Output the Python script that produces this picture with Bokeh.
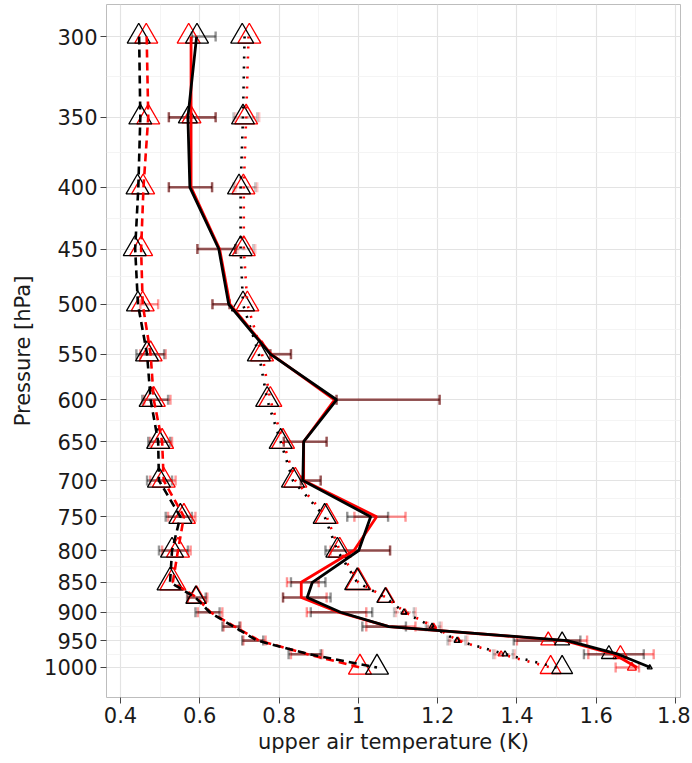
from math import pi
from bokeh.plotting import figure
from bokeh.models import Range1d, FixedTicker, CustomJSTickFormatter, ColumnDataSource
from bokeh.embed import file_html
from bokeh.resources import INLINE

# ---------------- data ----------------
pressure = [300, 350, 400, 450, 500, 550, 600, 650, 700, 750, 800, 850, 875, 900, 925, 950, 975, 1000]
y_ticks = [300, 350, 400, 450, 500, 550, 600, 650, 700, 750, 800, 850, 900, 950, 1000]
x_ticks = [0.4, 0.6, 0.8, 1.0, 1.2, 1.4, 1.6, 1.8]
x_minor = [0.5, 0.7, 0.9, 1.1, 1.3, 1.5, 1.7]

# dashed statistic
dash_black = [0.447, 0.450, 0.445, 0.437, 0.444, 0.467, 0.476, 0.495, 0.497, 0.551, 0.530, 0.525, 0.589, 0.625, 0.685, 0.745, 0.875, 1.047]
dash_red = [0.466, 0.470, 0.458, 0.452, 0.456, 0.476, 0.484, 0.505, 0.509, 0.560, 0.545, 0.532, 0.592, 0.627, 0.688, 0.750, 0.872, 1.004]
dash_tri_black = [0.446, 0.450, 0.443, 0.436, 0.444, 0.467, 0.476, 0.495, 0.497, 0.551, 0.530, 0.525, 0.590, None, None, None, None, 1.047]
dash_tri_red = [0.465, 0.470, 0.457, 0.452, 0.456, 0.476, 0.484, 0.505, 0.509, 0.560, 0.545, 0.532, 0.592, None, None, None, None, 1.004]
dash_tri_size = [23, 23, 23, 23, 23, 23, 23, 23, 23, 23, 23, 26, 20, 0, 0, 0, 0, 23]
dash_lo_black = [None, None, None, None, None, 0.440, 0.455, 0.470, 0.467, 0.514, 0.497, None, 0.568, 0.589, 0.657, 0.707, 0.824, None]
dash_hi_black = [None, None, None, None, None, 0.510, 0.520, 0.525, 0.530, 0.580, 0.570, None, 0.615, 0.650, 0.700, 0.760, 0.905, None]
dash_lo_red = [None, None, None, None, 0.450, 0.450, 0.460, 0.475, 0.475, 0.520, 0.505, None, 0.570, 0.595, 0.660, 0.710, 0.830, None]
dash_hi_red = [None, None, None, None, 0.495, 0.514, 0.526, 0.530, 0.539, 0.589, 0.577, None, 0.619, 0.657, 0.703, 0.766, 0.909, None]

# solid statistic
solid_black = [0.592, 0.570, 0.575, 0.648, 0.673, 0.778, 0.945, 0.862, 0.860, 1.031, 1.001, 0.884, 0.871, 0.955, 1.077, 1.527, 1.655, 1.737]
solid_red = [0.578, 0.578, 0.578, 0.650, 0.676, 0.780, 0.940, 0.862, 0.862, 1.046, 0.989, 0.856, 0.856, 0.950, 1.077, 1.520, 1.645, 1.703]
solid_tri_black = [0.593, 0.570, None, None, None, None, None, None, None, None, None, None, None, None, None, 1.514, 1.632, 1.735]
solid_tri_red = [0.572, 0.579, None, None, None, None, None, None, None, None, None, None, None, None, None, 1.479, 1.661, 1.690]
solid_tri_size_black = [23, 19, 0, 0, 0, 0, 0, 0, 0, 0, 0, 0, 0, 0, 0, 15, 15, 5]
solid_tri_size_red = [23, 19, 0, 0, 0, 0, 0, 0, 0, 0, 0, 0, 0, 0, 0, 15, 15, 9]
solid_lo_black = [0.580, 0.522, 0.522, 0.594, 0.632, 0.778, 0.945, 0.812, 0.855, 0.972, 0.917, 0.830, 0.810, 0.880, 1.010, 1.392, 1.569, None]
solid_hi_black = [0.640, 0.640, 0.631, 0.690, 0.675, 0.830, 1.205, 0.920, 0.905, 1.075, 1.080, 0.917, 0.930, 1.035, 1.120, 1.560, 1.720, None]
solid_lo_red = [None, 0.522, 0.522, 0.594, 0.632, 0.778, 0.945, 0.812, 0.855, 0.990, 0.930, 0.820, 0.810, 0.870, 1.020, 1.400, 1.580, 1.649]
solid_hi_red = [None, 0.640, 0.631, 0.690, 0.675, 0.830, 1.205, 0.920, 0.905, 1.119, 1.080, 0.900, 0.920, 1.020, 1.144, 1.577, 1.745, 1.708]

# dotted statistic
dot_black = [0.713, 0.709, 0.703, 0.703, 0.709, 0.749, 0.770, 0.804, 0.835, 0.915, 0.947, 0.997, 1.068, 1.115, 1.186, 1.249, 1.370, 1.500]
dot_red = [0.723, 0.717, 0.711, 0.711, 0.720, 0.757, 0.778, 0.810, 0.841, 0.920, 0.953, 1.000, 1.070, 1.118, 1.190, 1.252, 1.360, 1.485]
dot_tri_black = [0.707, 0.709, 0.699, 0.703, 0.709, 0.749, 0.770, 0.804, 0.835, 0.915, 0.947, 0.997, 1.068, 1.115, 1.186, 1.249, 1.370, 1.514]
dot_tri_red = [0.725, 0.717, 0.710, 0.711, 0.720, 0.757, 0.778, 0.810, 0.841, 0.920, 0.953, 1.000, 1.070, 1.118, 1.190, 1.252, 1.360, 1.485]
dot_tri_size = [23, 23, 23, 23, 23, 23, 23, 23, 23, 23, 23, 25, 17, 6, 6, 6, 6, 21]
dot_lo_black = [None, 0.685, 0.685, 0.690, None, None, None, None, None, None, None, None, None, 1.090, 1.170, 1.225, 1.340, None]
dot_hi_black = [None, 0.745, 0.740, 0.735, None, None, None, None, None, None, None, None, None, 1.140, 1.205, 1.270, 1.390, None]
dot_lo_red = [None, 0.690, 0.690, 0.695, None, None, None, None, None, None, None, None, None, 1.095, 1.175, 1.230, 1.345, None]
dot_hi_red = [None, 0.750, 0.745, 0.740, None, None, None, None, None, None, None, None, None, 1.145, 1.210, 1.275, 1.395, None]

# ---------------- figure ----------------
FONT = "DejaVu Sans"
p = figure(width=690, height=761, output_backend="svg", toolbar_location=None,
           x_range=Range1d(0.3647, 1.8126), y_range=Range1d(1059, 282.2),
           y_axis_type="log",
           min_border_left=106, min_border_right=10, min_border_top=4, min_border_bottom=64)
p.background_fill_color = "white"
p.border_fill_color = "white"
p.outline_line_color = "#BDBDBD"
p.outline_line_width = 1

# grids
y_minor = [(a * b) ** 0.5 for a, b in zip(y_ticks[:-1], y_ticks[1:])]
p.yaxis.ticker = FixedTicker(ticks=y_ticks, minor_ticks=y_minor)
p.xaxis.ticker = FixedTicker(ticks=x_ticks, minor_ticks=x_minor)
p.yaxis.formatter = CustomJSTickFormatter(code="return tick.toFixed(0)")
p.xaxis.formatter = CustomJSTickFormatter(code="return String(Math.round(tick*10)/10)")
for g in (p.xgrid, p.ygrid):
    g.grid_line_color = "#E3E3E3"
    g.grid_line_width = 1.2
    g.minor_grid_line_color = "#F1F1F1"
    g.minor_grid_line_width = 0.8

for ax in (p.xaxis, p.yaxis):
    ax.axis_line_color = None
    ax.major_tick_line_color = "#444444"
    ax.major_tick_line_width = 1
    ax.major_tick_out = 6
    ax.major_tick_in = 0
    ax.minor_tick_line_color = None
    ax.major_label_text_font = FONT
    ax.major_label_text_font_size = "21px"
    ax.major_label_text_color = "#1A1A1A"
    ax.axis_label_text_font = FONT
    ax.axis_label_text_font_size = "21px"
    ax.axis_label_text_font_style = "normal"
    ax.axis_label_text_color = "#1A1A1A"
    ax.major_label_standoff = 3
p.xaxis.axis_label = "upper air temperature (K)"
p.yaxis.axis_label = "Pressure [hPa]"
p.xaxis.axis_label_standoff = 4
p.yaxis.axis_label_standoff = 6


def clean(xs, extra=None):
    out_y, out_x, out_e = [], [], []
    for i, v in enumerate(xs):
        if v is None:
            continue
        if extra is not None and (extra[i] is None or extra[i] == 0):
            continue
        out_y.append(pressure[i])
        out_x.append(v)
        if extra is not None:
            out_e.append(extra[i])
    return out_x, out_y, out_e


def errbars(lo, hi, color, alpha, dash):
    ys, x0, x1 = [], [], []
    for i in range(len(pressure)):
        if lo[i] is None or hi[i] is None:
            continue
        ys.append(pressure[i]); x0.append(lo[i]); x1.append(hi[i])
    if not ys:
        return
    src = ColumnDataSource(dict(y=ys, x0=x0, x1=x1))
    p.segment(x0="x0", y0="y", x1="x1", y1="y", source=src, line_color=color,
              line_alpha=alpha, line_width=2.6, line_dash=dash)
    for k in ("x0", "x1"):
        p.scatter(x=k, y="y", source=src, marker="dash", angle=pi / 2, size=10,
                  line_color=color, line_alpha=alpha, line_width=2.4)


# error bars
errbars(dash_lo_red, dash_hi_red, "#FF0000", 0.40, "solid")
errbars(dash_lo_black, dash_hi_black, "#000000", 0.40, "solid")
errbars(solid_lo_red, solid_hi_red, "#FF0000", 0.42, "solid")
errbars(solid_lo_black, solid_hi_black, "#000000", 0.42, "solid")
errbars(dot_lo_red, dot_hi_red, "#FF0000", 0.22, "3 3")
errbars(dot_lo_black, dot_hi_black, "#000000", 0.22, "3 3")


def triangles(xs, sizes, color):
    x, y, s = clean(xs, sizes)
    src = ColumnDataSource(dict(x=x, y=y, s=s))
    p.scatter(x="x", y="y", size="s", source=src, marker="triangle",
              fill_color=None, line_color=color, line_width=1.3)


triangles(dash_tri_red, dash_tri_size, "#FF0000")
triangles(dash_tri_black, dash_tri_size, "#000000")
triangles(solid_tri_red, solid_tri_size_red, "#FF0000")
triangles(solid_tri_black, solid_tri_size_black, "#000000")
triangles(dot_tri_red, dot_tri_size, "#FF0000")
triangles(dot_tri_black, dot_tri_size, "#000000")

# lines
p.line(dash_red, pressure, line_color="#FF0000", line_width=2.6, line_dash="8 5")
p.line(dash_black, pressure, line_color="#000000", line_width=2.6, line_dash="8 5")
p.line(dot_red, pressure, line_color="#FF0000", line_width=2.6, line_dash="2 8")
p.line(dot_black, pressure, line_color="#000000", line_width=2.6, line_dash="2 8")
p.line(solid_red, pressure, line_color="#FF0000", line_width=2.8)
p.line(solid_black, pressure, line_color="#000000", line_width=2.8)

open("out.html", "w").write(file_html(p, INLINE))
